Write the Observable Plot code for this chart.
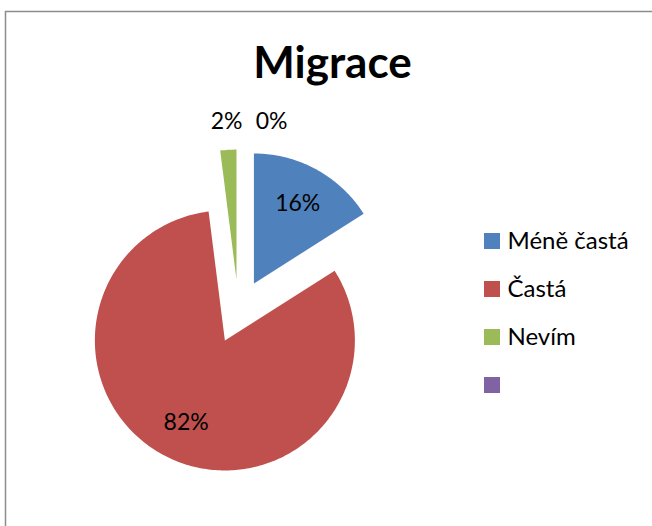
<!DOCTYPE html>
<html>
<head>
<meta charset="utf-8">
<script src="https://cdn.jsdelivr.net/npm/d3@7"></script>
<script src="https://cdn.jsdelivr.net/npm/@observablehq/plot@0.6"></script>
<style>
  html, body { margin: 0; padding: 0; background: #fff; overflow: hidden; }
</style>
</head>
<body>
<div id="chart"></div>
<script>
const title = "Migrace";
const categories = ["Méně častá", "Častá", "Nevím", ""];
const values = [16, 82, 2, 0];
const percentLabels = ["16%", "82%", "2%", "0%"];
const colors = ["#4F81BD", "#C0504D", "#9BBB59", "#8064A2"];

const W = 652, H = 526;
const cx = 238, cy = 311, R = 130, explode = 32;
const font = "Lato, 'Open Sans', sans-serif";

const arcs = d3.pie().sort(null).value(d => d)(values);
const pt = (ox, oy, rho, a) => [ox + rho * Math.sin(a), oy - rho * Math.cos(a)];

const sliceRows = [];
const labelRows = [];
arcs.forEach((a, i) => {
  const mid = (a.startAngle + a.endAngle) / 2;
  const [vx, vy] = pt(cx, cy, explode, mid);
  if (a.value > 0) {
    sliceRows.push({cat: categories[i], key: i, x: vx, y: vy});
    const n = Math.max(2, Math.ceil((a.endAngle - a.startAngle) / (Math.PI / 180)));
    for (let k = 0; k <= n; k++) {
      const ang = a.startAngle + (a.endAngle - a.startAngle) * k / n;
      const [x, y] = pt(vx, vy, R, ang);
      sliceRows.push({cat: categories[i], key: i, x, y});
    }
    sliceRows.push({cat: categories[i], key: i, x: vx, y: vy});
  }
  const share = a.value / d3.sum(values);
  const inside = share >= 0.05;
  const [lx, ly] = pt(vx, vy, inside ? R * 0.7 : R + 28, mid);
  labelRows.push({text: percentLabels[i], x: lx, y: ly, inside});
});
// simple overlap avoidance for outside labels
const outside = labelRows.filter(d => !d.inside).sort((a, b) => a.x - b.x);
for (let k = 1; k < outside.length; k++) {
  if (outside[k].x - outside[k - 1].x < 45 && Math.abs(outside[k].y - outside[k - 1].y) < 24) {
    outside[k].x = outside[k - 1].x + 45;
  }
}

const legendRows = categories.map((c, i) => ({
  cat: c, key: i,
  x1: 484, x2: 500,
  yc: 241 + 48 * i
}));

const chart = Plot.plot({
  width: W, height: H,
  margin: 0,
  style: {fontFamily: font, background: "#fff", color: "#000"},
  x: {type: "linear", domain: [0, W], range: [0, W], axis: null},
  y: {type: "linear", domain: [0, H], range: [0, H], axis: null},
  color: {type: "ordinal", domain: d3.range(categories.length), range: colors},
  marks: [
    Plot.ruleY([11], {x1: 5, x2: W, y: d => d, stroke: "#8c8c8c", strokeWidth: 1.5}),
    Plot.ruleX([5], {y1: 11, y2: H, x: d => d, stroke: "#8c8c8c", strokeWidth: 1.5}),
    Plot.line(sliceRows, {x: "x", y: "y", z: "key", fill: "key", stroke: null, curve: "linear-closed"}),
    Plot.text(labelRows, {x: "x", y: "y", text: "text", fontSize: 23, fill: "#000", textAnchor: "middle", lineAnchor: "middle"}),
    Plot.text([title], {x: () => 332, y: () => 63, text: d => d, fontSize: 44, fontWeight: "bold", fill: "#000", textAnchor: "middle", lineAnchor: "middle"}),
    Plot.rect(legendRows, {x1: "x1", x2: "x2", y1: d => d.yc - 8, y2: d => d.yc + 8, fill: "key"}),
    Plot.text(legendRows, {x: d => d.x2 + 7, y: "yc", text: "cat", fontSize: 24, fill: "#000", textAnchor: "start", lineAnchor: "middle"})
  ]
});
document.getElementById("chart").appendChild(chart);
</script>
</body>
</html>
